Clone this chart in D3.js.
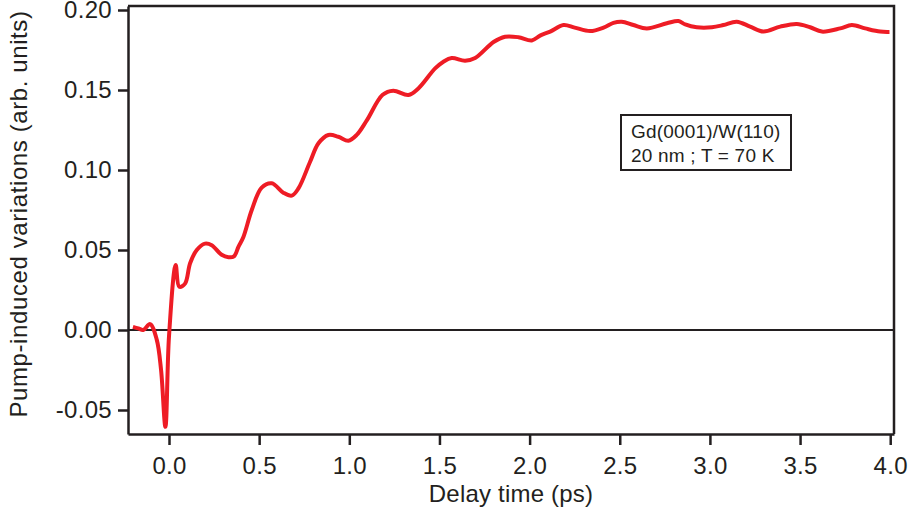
<!DOCTYPE html>
<html lang="en">
<head>
  <meta charset="UTF-8">
  <title>Pump-induced variations vs delay time</title>
  <script src="https://d3js.org/d3.v7.min.js"></script>
  <style>
    body { margin: 0; background: #fff; }
    text { font-family: "Liberation Sans", Arial, Helvetica, sans-serif; fill: #231f20; }
  </style>
</head>
<body>
  <div id="chart"></div>

  <script>
    // data
    const delayTimes = [-0.2, -0.17, -0.143, -0.105, -0.068, -0.044, -0.02, 0.0, 0.037, 0.057, 0.089,
      0.117, 0.154, 0.2, 0.237, 0.292, 0.33, 0.36, 0.385, 0.412, 0.459, 0.514, 0.57, 0.634, 0.681,
      0.718, 0.782, 0.829, 0.884, 0.939, 0.995, 1.041, 1.097, 1.185, 1.244, 1.328, 1.383, 1.476,
      1.522, 1.568, 1.642, 1.698, 1.8, 1.864, 1.938, 2.012, 2.058, 2.114, 2.188, 2.25, 2.336, 2.41,
      2.465, 2.511, 2.576, 2.65, 2.761, 2.826, 2.863, 2.927, 3.011, 3.075, 3.149, 3.223, 3.297,
      3.39, 3.482, 3.556, 3.621, 3.723, 3.787, 3.861, 3.944, 3.996];
    const variations = [0.002, 0.001, 0.0, 0.0037, -0.006, -0.025, -0.0605, -0.004, 0.0406, 0.027, 0.029,
      0.0417, 0.05, 0.054, 0.053, 0.047, 0.0455, 0.046, 0.052, 0.058, 0.075, 0.089, 0.0917, 0.0858, 0.084,
      0.0885, 0.105, 0.1167, 0.1219, 0.1208, 0.1183, 0.1219, 0.131, 0.147, 0.1496, 0.1469, 0.151, 0.1635,
      0.1677, 0.17, 0.1683, 0.17, 0.18, 0.1833, 0.183, 0.181, 0.184, 0.1865, 0.1906, 0.189, 0.1868, 0.189,
      0.192, 0.1927, 0.1906, 0.1885, 0.1917, 0.1931, 0.191, 0.1892, 0.1892, 0.1906, 0.1927, 0.1896, 0.1865,
      0.1896, 0.1913, 0.1892, 0.1865, 0.1885, 0.1906, 0.1885, 0.1865, 0.1863];
    const xTicks = [0, 0.5, 1, 1.5, 2, 2.5, 3, 3.5, 4];
    const yTicks = [-0.05, 0, 0.05, 0.1, 0.15, 0.2];
    const legendLines = ["Gd(0001)/W(110)", "20 nm ; T = 70 K"];

    const width = 910, height = 516;
    const plotLeft = 128, plotRight = 894, plotTop = 6, plotBottom = 434;
    const ink = "#231f20";

    const svg = d3.select("#chart").append("svg")
      .attr("width", width)
      .attr("height", height);

    const x = d3.scaleLinear().domain([-0.2274, 4.021]).range([plotLeft, plotRight]);
    const y = d3.scaleLinear().domain([-0.065, 0.2025]).range([plotBottom, plotTop]);

    // frame (top and right)
    svg.append("path")
      .attr("d", `M${plotLeft},${plotTop}H${plotRight}V${plotBottom}`)
      .attr("fill", "none")
      .attr("stroke", ink)
      .attr("stroke-width", 2.5);

    // zero line
    svg.append("line")
      .attr("x1", plotLeft).attr("x2", plotRight)
      .attr("y1", y(0)).attr("y2", y(0))
      .attr("stroke", ink)
      .attr("stroke-width", 2);

    const fmtY = v => d3.format(".2f")(v).replace("\u2212", "-");

    const xAxis = svg.append("g")
      .attr("transform", `translate(0,${plotBottom})`)
      .call(d3.axisBottom(x).tickValues(xTicks).tickFormat(d3.format(".1f"))
        .tickSize(11).tickSizeOuter(0).tickPadding(12));

    const yAxis = svg.append("g")
      .attr("transform", `translate(${plotLeft},0)`)
      .call(d3.axisLeft(y).tickValues(yTicks).tickFormat(fmtY)
        .tickSize(10).tickSizeOuter(0).tickPadding(6));

    [xAxis, yAxis].forEach(g => {
      g.select(".domain").attr("stroke", ink).attr("stroke-width", 2.5);
      g.selectAll(".tick line").attr("stroke", ink).attr("stroke-width", 2.5);
      g.selectAll(".tick text")
        .attr("fill", ink)
        .style("font-size", "24px")
        .style("letter-spacing", "0.3px")
        .style("font-family", "'Liberation Sans', Arial, sans-serif");
    });

    // axis titles
    svg.append("text")
      .attr("x", (plotLeft + plotRight) / 2)
      .attr("y", 502)
      .attr("text-anchor", "middle")
      .style("font-size", "24px")
      .style("letter-spacing", "0.2px")
      .text("Delay time (ps)");

    svg.append("text")
      .attr("transform", "translate(27,214) rotate(-90)")
      .attr("text-anchor", "middle")
      .style("font-size", "24px")
      .style("letter-spacing", "0.6px")
      .text("Pump-induced variations (arb. units)");

    // data line
    const points = delayTimes.map((t, i) => [t, variations[i]]);
    const line = d3.line()
      .x(d => x(d[0]))
      .y(d => y(d[1]))
      .curve(d3.curveCatmullRom.alpha(0.5));

    svg.append("path")
      .attr("d", line(points))
      .attr("fill", "none")
      .attr("stroke", "#ee1c25")
      .attr("stroke-width", 4)
      .attr("stroke-linejoin", "round");

    // legend box
    const legend = svg.append("g").attr("transform", "translate(621,115)");
    legend.append("rect")
      .attr("width", 170)
      .attr("height", 55)
      .attr("fill", "#fff")
      .attr("stroke", ink)
      .attr("stroke-width", 2);
    legend.selectAll("text.leg")
      .data(legendLines)
      .join("text")
      .attr("class", "leg")
      .attr("x", 10)
      .attr("y", (d, i) => 23 + i * 24)
      .style("font-size", "19px")
      .style("letter-spacing", "0.2px")
      .text(d => d);
  </script>
</body>
</html>
